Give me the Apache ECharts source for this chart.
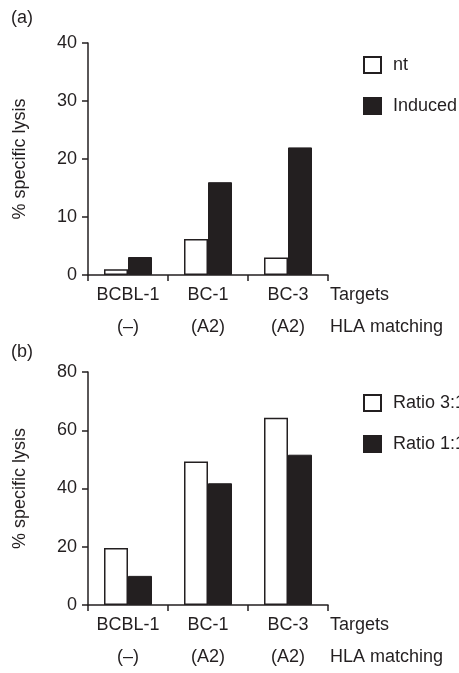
<!DOCTYPE html>
<html><head><meta charset="utf-8">
<script src="https://cdn.jsdelivr.net/npm/echarts@6/dist/echarts.min.js"></script>
<style>html,body{margin:0;padding:0;background:#fff}#c{width:459px;height:673px}</style>
</head><body><div id="c"></div>
<script>
const categories = ['BCBL-1', 'BC-1', 'BC-3'];
const hlaMatching = ['(–)', '(A2)', '(A2)'];
const ntValues = [1, 6.2, 3];
const inducedValues = [3.1, 16, 22];
const ratio31Values = [19.6, 49.3, 64.3];
const ratio11Values = [10, 41.8, 51.6];
const yTicksA = [0, 10, 20, 30, 40];
const yTicksB = [0, 20, 40, 60, 80];

const INK = '#231f20';
const FONT = 'Liberation Sans, Arial, Helvetica, sans-serif';
const FS = 18;

function xAxisFor(gridIndex) {
  return {
    type: 'category', gridIndex, data: categories,
    axisLine: {lineStyle: {color: INK, width: 1.5}},
    axisTick: {show: true, interval: 0, length: 6, lineStyle: {color: INK, width: 1.5}},
    axisLabel: {
      interval: 0, hideOverlap: false,
      color: INK, fontFamily: FONT, fontSize: FS, lineHeight: 32, margin: 4,
      formatter: (v, i) => v + '\n' + hlaMatching[i]
    },
    name: 'Targets\nHLA matching', nameLocation: 'end', nameGap: 2,
    nameTextStyle: {color: INK, fontFamily: FONT, fontSize: FS, lineHeight: 32,
      align: 'left', verticalAlign: 'top', padding: [4, 0, 0, 0]}
  };
}
function yAxisFor(gridIndex, ticks) {
  return {
    type: 'value', gridIndex, min: ticks[0], max: ticks[ticks.length - 1],
    interval: ticks[1] - ticks[0],
    splitLine: {show: false},
    axisLine: {show: true, lineStyle: {color: INK, width: 1.5}},
    axisTick: {show: true, length: 6, lineStyle: {color: INK, width: 1.5}},
    axisLabel: {color: INK, fontFamily: FONT, fontSize: FS, margin: 11},
    name: '% specific lysis', nameLocation: 'middle', nameRotate: 90, nameGap: 59,
    nameTextStyle: {color: INK, fontFamily: FONT, fontSize: FS}
  };
}
const whiteBar = {color: '#fff', borderColor: INK, borderWidth: 1.5};
const blackBar = {color: INK, borderColor: INK, borderWidth: 1};
function bar(name, data, style, idx) {
  return {type: 'bar', name, data, xAxisIndex: idx, yAxisIndex: idx,
    barWidth: 24, barGap: '0%', itemStyle: style, animation: false, silent: true};
}
function legendFor(names, top) {
  return {
    orient: 'vertical', left: 363, top, padding: 0, itemWidth: 17, itemHeight: 16, itemGap: 23,
    icon: 'rect', data: names, selectedMode: false,
    textStyle: {color: INK, fontFamily: FONT, fontSize: FS, padding: [0, 0, 0, 7]}
  };
}

const chart = echarts.init(document.getElementById('c'), null, {renderer: 'canvas'});
chart.setOption({
  backgroundColor: '#fff',
  animation: false,
  title: [
    {text: '(a)', left: 6, top: 4, textStyle: {color: INK, fontFamily: FONT, fontSize: FS, fontWeight: 'normal'}},
    {text: '(b)', left: 6, top: 338, textStyle: {color: INK, fontFamily: FONT, fontSize: FS, fontWeight: 'normal'}}
  ],
  grid: [
    {left: 88, right: 131, top: 43, bottom: 398},
    {left: 88, right: 131, top: 372, bottom: 64}
  ],
  xAxis: [xAxisFor(0), xAxisFor(1)],
  yAxis: [yAxisFor(0, yTicksA), yAxisFor(1, yTicksB)],
  legend: [legendFor(['nt', 'Induced'], 56), legendFor(['Ratio 3:1', 'Ratio 1:1'], 394)],
  series: [
    bar('nt', ntValues, whiteBar, 0),
    bar('Induced', inducedValues, blackBar, 0),
    bar('Ratio 3:1', ratio31Values, whiteBar, 1),
    bar('Ratio 1:1', ratio11Values, blackBar, 1)
  ]
});
</script></body></html>
